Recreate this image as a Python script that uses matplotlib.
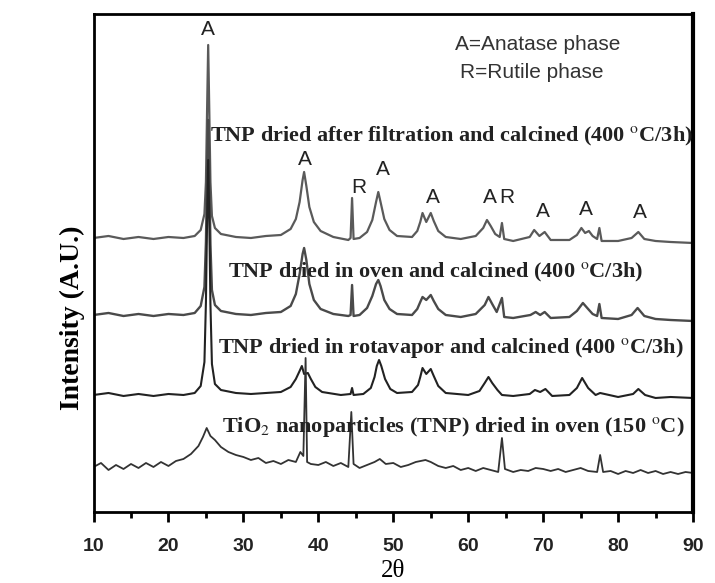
import matplotlib
matplotlib.use('Agg')
import matplotlib.pyplot as plt
from matplotlib.ticker import MultipleLocator

# 2-theta positions / intensities (A.U.)
filtr_x = [10, 12, 14, 16, 18, 20, 22, 23.5, 24.3, 24.8, 25.0, 25.15, 25.3, 25.45, 25.6, 25.8,
           26.2, 27, 29, 31, 33, 35, 36.3, 37.0, 37.5, 37.9, 38.1, 38.4, 38.8, 39.4, 40.3, 42,
           44.0, 44.3, 44.5, 44.7, 45.5, 46.5, 47.2, 47.7, 48.0, 48.3, 48.8, 49.5, 50.5, 52.5,
           53.2, 53.6, 53.9, 54.4, 55.0, 55.4, 56.0, 57, 59, 61.0, 62.0, 62.5, 63.0, 63.6, 64.2,
           64.5, 64.8, 66, 68.2, 68.8, 69.5, 70.2, 71, 73.5, 74.5, 75.1, 75.6, 76.1, 76.6, 77.2,
           77.5, 77.8, 80, 81.8, 82.7, 83.5, 85, 87, 90]
filtr_y = [274, 276, 273, 275, 273, 275, 274, 276, 282, 298, 330, 400, 467, 400, 330, 296,
           284, 278, 275, 274, 276, 277, 283, 293, 310, 332, 340, 326, 305, 290, 281, 275,
           272, 274, 314, 273, 274, 280, 292, 310, 320, 310, 293, 282, 276, 275,
           281, 290, 299, 290, 299, 291, 281, 275, 273, 276, 284, 292, 286, 278, 275,
           289, 273, 271, 275, 282, 276, 280, 272, 272, 277, 284, 279, 281, 276, 273,
           284, 271, 271, 274, 280, 273, 271, 270, 269]

oven_x = [10, 12, 14, 16, 18, 20, 22, 23.5, 24.3, 24.8, 25.0, 25.15, 25.3, 25.45, 25.6, 25.8,
          26.2, 27, 29, 31, 33, 35, 36.3, 37.0, 37.5, 37.9, 38.1, 38.4, 38.8, 39.4, 40.3, 42,
          44.0, 44.3, 44.5, 44.7, 45.5, 46.5, 47.2, 47.7, 48.0, 48.3, 48.8, 49.5, 50.5, 52.5,
          53.2, 53.6, 53.9, 54.4, 55.0, 55.4, 56.0, 57, 59, 61.0, 62.2, 62.7, 63.2, 63.8, 64.5,
          64.8, 66, 68.3, 69.0, 69.6, 70.2, 71, 73.5, 74.5, 75.3, 76.0, 76.6, 77.2, 77.5, 77.8,
          80, 81.8, 82.6, 83.5, 85, 87, 90]
oven_y = [197, 199, 196, 198, 196, 198, 197, 199, 206, 225, 270, 340, 392, 340, 268, 222,
          207, 201, 198, 197, 199, 200, 206, 218, 238, 258, 264, 252, 228, 212, 203, 198,
          196, 197, 227, 196, 197, 204, 216, 228, 232, 226, 212, 203, 198, 197,
          203, 210, 215, 212, 217, 211, 203, 197, 195, 198, 207, 215, 208, 200, 214,
          195, 194, 197, 200, 197, 200, 194, 195, 201, 209, 203, 198, 196, 208, 194,
          193, 197, 204, 196, 193, 192, 191]

rota_x = [10, 12, 14, 16, 18, 20, 22, 23.5, 24.3, 24.8, 25.0, 25.15, 25.3, 25.45, 25.6, 25.8,
          26.2, 27, 29, 31, 33, 35, 36.3, 37.0, 37.5, 37.8, 38.1, 38.6, 39.0, 39.6, 40.5, 43,
          44.3, 44.5, 44.7, 46, 47.0, 47.5, 47.8, 48.1, 48.4, 48.9, 49.6, 50.5, 52.5,
          53.3, 53.6, 53.9, 54.4, 55.0, 55.4, 56.0, 57, 60, 61.5, 62.2, 62.7, 63.2, 63.9, 64.5,
          66, 68.2, 68.9, 69.6, 70.3, 71.2, 73.5, 74.5, 75.2, 76.0, 77.0, 77.6, 80, 82.0, 82.7,
          83.6, 85, 87, 90]
rota_y = [117, 119, 116, 118, 116, 118, 117, 119, 126, 150, 210, 290, 352, 290, 208, 148,
          128, 122, 119, 118, 119, 120, 125, 133, 141, 146, 138, 139, 133, 125, 120, 117,
          118, 124, 117, 118, 124, 135, 146, 152, 146, 133, 123, 119, 120,
          127, 135, 144, 138, 143, 136, 126, 119, 117, 121, 129, 135, 129, 122, 117,
          116, 118, 122, 120, 123, 116, 117, 124, 134, 124, 117, 119, 115, 118, 123,
          117, 114, 115, 114]

dried_x = [10, 11, 12, 13, 14, 15, 16, 17, 18, 19, 20, 21, 22, 23, 24, 24.6, 25.1, 25.6, 26.2,
           27, 28, 29, 30, 31, 32, 33, 34, 35, 36, 37, 37.6, 38.0, 38.3, 38.5, 39, 40, 41, 42,
           43, 44.0, 44.4, 44.7, 45.5, 46.5, 47.5, 48.2, 49, 50, 51, 52, 53, 54.3, 55.0, 56, 57,
           58, 59, 60, 61, 62, 63, 64.0, 64.5, 64.9, 66, 67, 68, 69, 70, 71, 72, 73, 74, 75, 76,
           77.2, 77.6, 78.0, 79, 80, 81, 82, 83, 84, 85, 86, 87, 88, 89, 90]
dried_y = [45, 49, 42, 47, 43, 48, 44, 49, 45, 50, 46, 51, 53, 58, 66, 75, 84, 76, 72,
           65, 60, 57, 55, 52, 54, 49, 51, 48, 52, 50, 60, 56, 154, 50, 48, 47, 50, 46,
           49, 45, 100, 48, 44, 47, 50, 53, 48, 49, 45, 47, 50, 52, 50, 46, 44,
           46, 42, 44, 41, 44, 42, 40, 74, 43, 40, 42, 41, 44, 43, 41, 43, 40, 42, 44, 41,
           40, 57, 40, 41, 38, 41, 39, 42, 39, 41, 38, 40, 38, 40, 39]

series_labels = ['TNP dried after filtration and calcined (400 $^{\\rm o}$C/3h)',
                 'TNP dried in oven and calcined (400 $^{\\rm o}$C/3h)',
                 'TNP dried in rotavapor and calcined (400 $^{\\rm o}$C/3h)',
                 'TiO$_{\\rm 2}$ nanoparticles (TNP) dried in oven (150 $^{\\rm o}$C)']

# phase markers: (2theta, height, letter)
phase_x = [25.3, 38.2, 45.4, 48.6, 55.3, 62.9, 65.1, 69.9, 75.7, 82.9]
phase_y = [482, 352, 324, 342, 314, 314, 314, 300, 302, 299]
phase_txt = ['A', 'A', 'R', 'A', 'A', 'A', 'R', 'A', 'A', 'A']

plt.rcParams['mathtext.fontset'] = 'stix'

fig = plt.figure(figsize=(7.15, 5.83), dpi=100)
ax = fig.add_axes([0.1308, 0.1218, 0.8385, 0.8542])

ax.plot(filtr_x, filtr_y, color='#5a5a5a', lw=1.6)
ax.plot(oven_x, oven_y, color='#4a4a4a', lw=1.7)
ax.plot(rota_x, rota_y, color='#222222', lw=1.5)
ax.plot(dried_x, dried_y, color='#333333', lw=1.3)

serif = ['Liberation Serif', 'DejaVu Serif']
lab_pos = [(25.5, 376), (27.9, 240), (26.6, 164), (27.1, 85)]
for (lx, ly), txt in zip(lab_pos, series_labels):
    ax.text(lx, ly, txt, family=serif, fontweight='bold', fontsize=16,
            color='#222222', va='center', ha='left')

for px, py, t in zip(phase_x, phase_y, phase_txt):
    ax.text(px, py, t, family='Liberation Sans', fontsize=15, color='#222222',
            ha='center', va='center')

ax.text(69.3, 467, 'A=Anatase phase', family='Liberation Sans', fontsize=15,
        color='#333333', ha='center', va='center')
ax.text(68.5, 439, 'R=Rutile phase', family='Liberation Sans', fontsize=15,
        color='#333333', ha='center', va='center')

ax.set_xlim(10, 90)
ax.set_ylim(0, 498)
ax.xaxis.set_major_locator(MultipleLocator(10))
ax.xaxis.set_minor_locator(MultipleLocator(5))
ax.set_yticks([])
ax.tick_params(axis='x', which='major', direction='out', length=7, width=2, pad=12)
ax.tick_params(axis='x', which='minor', direction='out', length=4, width=2)
for lbl in ax.get_xticklabels():
    lbl.set_family(['Liberation Sans Narrow', 'Liberation Sans'])
    lbl.set_fontweight('bold')
    lbl.set_fontsize(14)
    lbl.set_color('#222222')
for s in ax.spines.values():
    s.set_linewidth(2)
ax.spines['right'].set_linewidth(3)

ax.set_xlabel('2\u03b8', family=serif, fontsize=18, labelpad=3)
ax.set_ylabel('Intensity (A.U.)', family=serif, fontweight='bold', fontsize=20)
ax.yaxis.set_label_coords(-0.014, 0.39)

fig.savefig('out.png', dpi=100)
